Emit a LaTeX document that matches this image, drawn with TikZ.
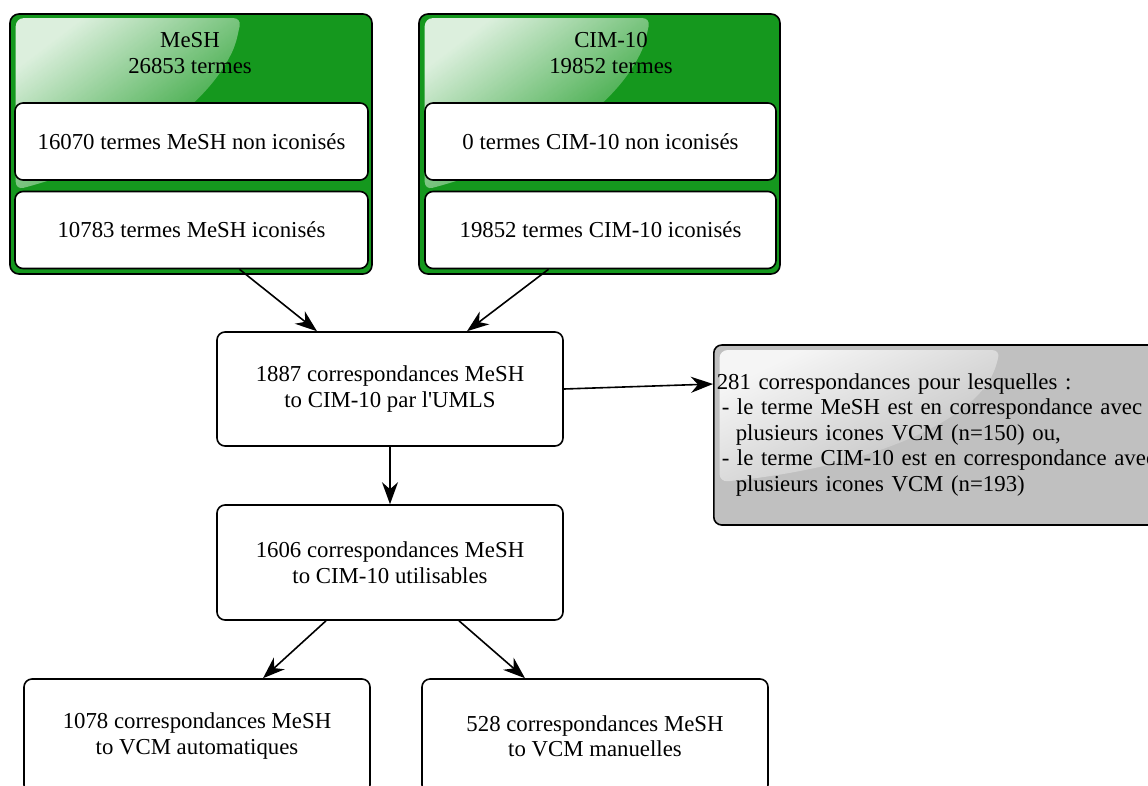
\documentclass[tikz,border=0pt]{standalone}
\usepackage{fontspec}
\setmainfont{Liberation Serif}
\usetikzlibrary{arrows.meta}
\usetikzlibrary{calc}
\usetikzlibrary{fadings}
\definecolor{vertbox}{RGB}{21,152,30}
\definecolor{grisbox}{RGB}{192,192,192}
\tikzset{
boite/.style={draw=black, line width=1.6pt, rounded corners=8pt, fill=white, align=center, inner sep=0pt},
cadre/.style={draw=black, line width=1.6pt, rounded corners=9pt, fill=vertbox, inner sep=0pt},
lueur/.style={white, path fading=east, fading angle=-45, fill opacity=0.85, rounded corners=8pt},
refletvert/.style={path picture={
  \coordinate (nw) at (path picture bounding box.north west);
  \fill[lueur] ($(nw)+(6,4)$) -- ($(nw)+(232,4)$) -- ($(nw)+(226,31)$)
    .. controls ($(nw)+(190,106)$) and ($(nw)+(100,151)$) .. ($(nw)+(6,176)$) -- cycle;}},
refletgris/.style={path picture={
  \coordinate (nw) at (path picture bounding box.north west);
  \fill[lueur] ($(nw)+(6,5)$) -- ($(nw)+(287,5)$) -- ($(nw)+(281,27)$)
    .. controls ($(nw)+(247,85)$) and ($(nw)+(137,125)$) .. ($(nw)+(6,137)$) -- cycle;}},
fleche/.style={-{Stealth[length=22pt,width=16pt,inset=7pt]}, line width=1.6pt}}

\begin{document}
\begin{tikzpicture}[x=1pt,y=-1pt,font=\fontsize{22.8}{25.5}\selectfont]
    \clip (0,0) rectangle (1148,785);

    % sources
    \node[cadre, refletvert, minimum width=362, minimum height=260] (MESH) at (191,144) {};
    \node[align=center] (MESHT) at (190,53) {MeSH\\26853 termes};
    \node[boite, minimum width=353, minimum height=77] (MESHN) at (191.5,141.5) {16070 termes MeSH non iconisés};
    \node[boite, minimum width=353, minimum height=77] (MESHI) at (191.5,230) {10783 termes MeSH iconisés};

    \node[cadre, refletvert, minimum width=361, minimum height=260] (CIM) at (599.5,144) {};
    \node[align=center] (CIMT) at (611,53) {CIM-10\\19852 termes};
    \node[boite, minimum width=351, minimum height=77] (CIMN) at (600.5,141.5) {0 termes CIM-10 non iconisés};
    \node[boite, minimum width=351, minimum height=77] (CIMI) at (600.5,230) {19852 termes CIM-10 iconisés};

    % correspondances
    \node[boite, minimum width=346, minimum height=114] (UMLS) at (390,389) {1887 correspondances MeSH\\to CIM-10 par l\textquotesingle UMLS};
    \node[boite, minimum width=346, minimum height=115] (UTIL) at (390,562.5) {1606 correspondances MeSH\\to CIM-10 utilisables};
    \node[boite, minimum width=346, minimum height=114] (AUTO) at (197,736) {1078 correspondances MeSH\\to VCM automatiques};
    \node[boite, minimum width=346, minimum height=114] (MAN) at (595,736) {528 correspondances MeSH\\to VCM manuelles};
    \node[boite, fill=grisbox, refletgris, text width=443, align=left, inner xsep=3, minimum height=180, anchor=west] (GRIS) at (713,435)
        {281 correspondances pour lesquelles :\\
         \hspace*{5pt}- le terme MeSH est en correspondance avec\\
         \hspace*{19pt}plusieurs icones VCM (n=150) ou,\\
         \hspace*{5pt}- le terme CIM-10 est en correspondance avec\\
         \hspace*{19pt}plusieurs icones VCM (n=193)\\[-8pt]};

    \draw[fleche] ($(MESHI.south)+(48,0)$) -- ($(UMLS.north)+(-73,0)$);
    \draw[fleche] ($(CIMI.south)+(-52,0)$) -- ($(UMLS.north)+(77,0)$);
    \draw[fleche] (UMLS.south) -- (UTIL.north);
    \draw[fleche] (UMLS.east) -- ($(GRIS.west)+(0,-51)$);
    \draw[fleche] ($(UTIL.south)+(-64,0)$) -- ($(AUTO.north)+(66,0)$);
    \draw[fleche] ($(UTIL.south)+(69,0)$) -- ($(MAN.north)+(-70,0)$);

\end{tikzpicture}
\end{document}
